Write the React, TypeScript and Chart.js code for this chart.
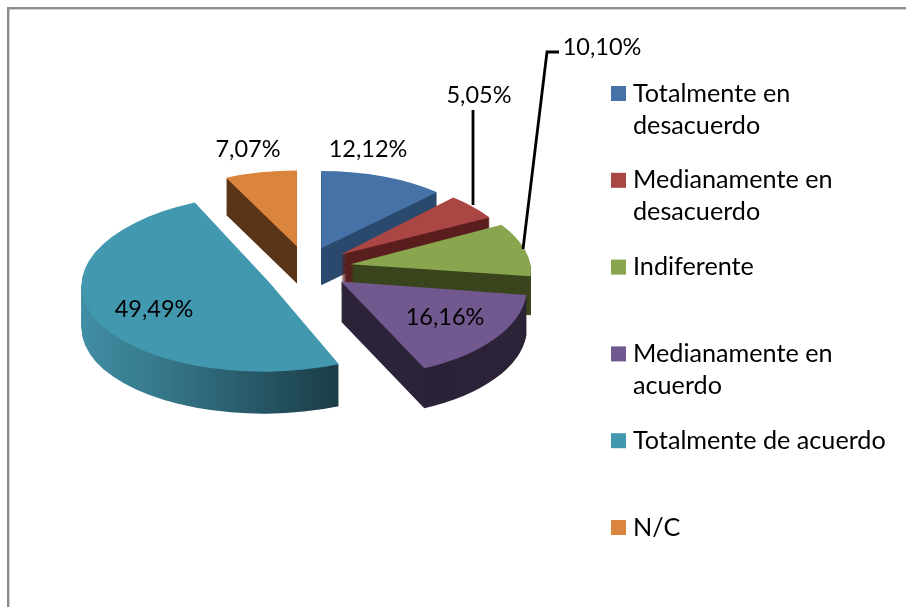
import React, { useEffect, useRef } from "react";
import { Chart, registerables } from "chart.js";

Chart.register(...registerables);

// ---- data ----
const categories = [
  "Totalmente en desacuerdo",
  "Medianamente en desacuerdo",
  "Indiferente",
  "Medianamente en acuerdo",
  "Totalmente de acuerdo",
  "N/C",
];
const shares = [12.12, 5.05, 10.1, 16.16, 49.49, 7.07];

// ---- styles ----
const topColors = ["#4572a7", "#aa4643", "#89a54e", "#71588f", "#4198af", "#db843d"];
const wallColors = ["#2c4a6e", "#5a1f1e", "#3a451e", "#2d2339", "#1b3f49", "#5a3416"];
const sliceRadius = [168, 175, 180, 186, 188, 165];
const sliceTilt = [0.46, 0.45, 0.465, 0.51, 0.473, 0.46];
const sliceShear = [0, 0.15, 0.19, 0.1, -0.075, 0];
const sliceExplode = [41, 44, 45, 44, 40, 41];
const sliceLift = [-2, -1, 0, 1, 7, -3];
const sliceDepth = [37, 37, 39, 40, 42, 37];
const paintOrder = [0, 5, 1, 2, 3, 4];
const TILT = 0.465;
const CX = 306;
const CY = 268;
const LABEL_FONT = '23.5px Lato, "Open Sans", sans-serif';
const LEGEND_FONT = '25.2px Lato, "Open Sans", sans-serif';
const FRAME = "#8c8c8c";

const legendLines = [
  ["Totalmente en", "desacuerdo"],
  ["Medianamente en", "desacuerdo"],
  ["Indiferente"],
  ["Medianamente en", "acuerdo"],
  ["Totalmente de acuerdo"],
  ["N/C"],
];
const LEGEND = { swatchX: 611, textX: 633, firstY: 93.5, step: 86.8, lineGap: 32, swatch: 15 };
const labelCentres = [
  [368, 149],
  [479, 95],
  [602, 47],
  [445, 317],
  [154, 309],
  [248, 149],
];
const leaders = [
  [[473, 110], [473, 205]],
  [[523, 249], [547, 52], [559, 52]],
];

const pct = (v: number) => v.toFixed(2).replace(".", ",") + "%";

const pie3d = {
  id: "pie3d",
  afterDatasetsUpdate(chart: any) {
    const arcs = chart.getDatasetMeta(0).data;
    arcs.forEach((arc: any, i: number) => {
      const mid = (arc.startAngle + arc.endAngle) / 2;
      arc.outerRadius = sliceRadius[i];
      arc.x = arc.x + Math.cos(mid) * sliceExplode[i];
      arc.y = arc.y + Math.sin(mid) * sliceExplode[i] + sliceLift[i] / TILT;
    });
  },
  beforeDraw(chart: any) {
    const { ctx, width, height } = chart;
    ctx.save();
    ctx.fillStyle = "#ffffff";
    ctx.fillRect(0, 0, width, height);
    ctx.fillStyle = FRAME;
    ctx.fillRect(7, 7, width - 7, 2.4);
    ctx.fillRect(7, 7, 2.4, height - 7);
    ctx.restore();
  },
  beforeDatasetDraw(chart: any) {
    const { ctx } = chart;
    const arcs = chart.getDatasetMeta(0).data;
    paintOrder.forEach((i) => {
      const arc = arcs[i];
      const keep = arc.options;
      const vx = arc.x;
      const vy = CY + (arc.y - CY) * TILT;
      const place = (d: number) => {
        ctx.save();
        ctx.translate(vx, vy + d);
        ctx.transform(1, 0, sliceShear[i], 1, 0, 0);
        ctx.scale(1, sliceTilt[i]);
        ctx.translate(-arc.x, -arc.y);
      };
      let wall: any = wallColors[i];
      if (i === 4) {
        wall = ctx.createLinearGradient(arc.x - sliceRadius[i], 0, arc.x + 73, 0);
        wall.addColorStop(0, "#418ea4");
        wall.addColorStop(0.35, "#357688");
        wall.addColorStop(0.7, "#265766");
        wall.addColorStop(1, "#1a3d47");
      }
      const plain = {
        backgroundColor: wall,
        borderColor: "transparent",
        borderWidth: 0,
        borderAlign: "center",
        borderJoinStyle: "round",
        borderRadius: 0,
        borderDash: [],
        borderDashOffset: 0,
        offset: 0,
        spacing: 0,
        circular: true,
      };
      arc.options = plain;
      for (let d = sliceDepth[i]; d >= 1; d--) {
        place(d);
        arc.draw(ctx);
        ctx.restore();
      }
      arc.options = { ...plain, backgroundColor: topColors[i] };
      place(0);
      arc.draw(ctx);
      ctx.restore();
      arc.options = keep;
    });
    return false;
  },
  afterDraw(chart: any) {
    const { ctx } = chart;
    ctx.save();
    ctx.strokeStyle = "#000000";
    ctx.lineWidth = 2.8;
    leaders.forEach((pts) => {
      ctx.beginPath();
      pts.forEach((p, k) => (k ? ctx.lineTo(p[0], p[1]) : ctx.moveTo(p[0], p[1])));
      ctx.stroke();
    });
    ctx.font = LABEL_FONT;
    ctx.fillStyle = "#000000";
    ctx.textBaseline = "middle";
    ctx.textAlign = "center";
    chart.data.datasets[0].data.forEach((v: number, i: number) => {
      ctx.fillText(pct(v), labelCentres[i][0], labelCentres[i][1]);
    });
    ctx.textAlign = "left";
    ctx.font = LEGEND_FONT;
    legendLines.forEach((lines, i) => {
      const y = LEGEND.firstY + LEGEND.step * i;
      ctx.fillStyle = topColors[i];
      ctx.fillRect(LEGEND.swatchX, y - LEGEND.swatch / 2, LEGEND.swatch, LEGEND.swatch);
      ctx.fillStyle = "#000000";
      lines.forEach((t, k) => ctx.fillText(t, LEGEND.textX, y + k * LEGEND.lineGap));
    });
    ctx.restore();
  },
};

export default function App() {
  const ref = useRef<HTMLCanvasElement>(null);
  useEffect(() => {
    const chart = new Chart(ref.current as HTMLCanvasElement, {
      type: "pie",
      data: {
        labels: categories,
        datasets: [{ data: shares, backgroundColor: topColors, borderWidth: 0, clip: false } as any],
      },
      options: {
        responsive: false,
        animation: false,
        events: [],
        radius: 170,
        layout: { padding: { left: 0, top: 0, right: 906 - 2 * CX, bottom: 607 - 2 * CY } },
        plugins: { legend: { display: false }, tooltip: { enabled: false } },
      } as any,
      plugins: [pie3d],
    });
    return () => chart.destroy();
  }, []);
  return (
    <div style={{ position: "absolute", left: 0, top: 0, width: 906, height: 607, overflow: "hidden" }}>
      <canvas ref={ref} width={906} height={607} style={{ display: "block" }} />
    </div>
  );
}
